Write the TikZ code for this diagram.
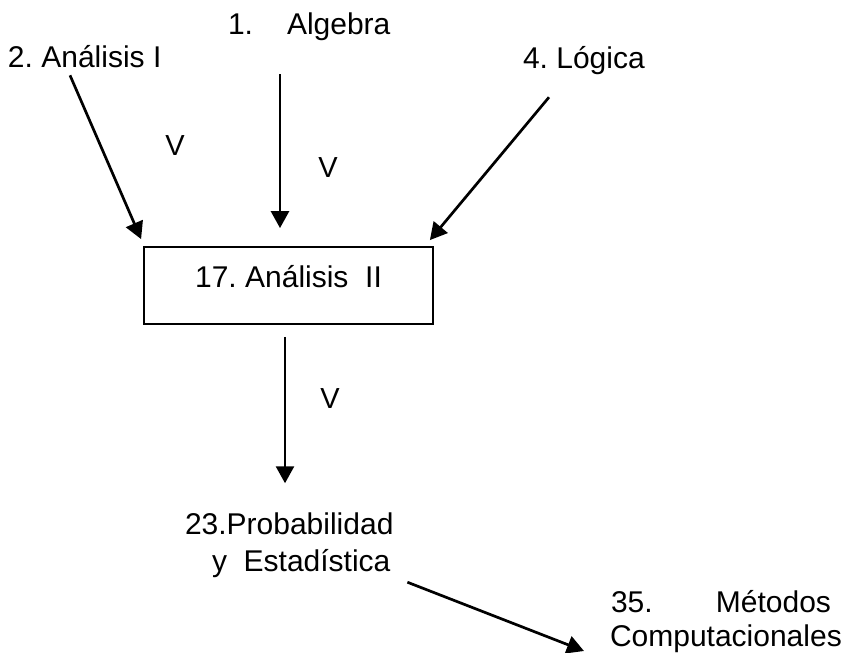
\documentclass[tikz,border=0pt]{standalone}
\usepackage{fontspec}
\setmainfont{Liberation Sans}
\frenchspacing
\usetikzlibrary{arrows.meta}
\tikzset{
  lbl/.style={inner sep=0pt, outer sep=0pt, anchor=base west, font=\fontsize{30}{34}\selectfont},
  vlbl/.style={inner sep=0pt, outer sep=0pt, anchor=center, font=\fontsize{29}{32}\selectfont},
  arr/.style={line width=2.7pt, -{Triangle[length=17pt,width=18pt]}},
  boxnode/.style={draw, line width=1.8pt, inner sep=0pt, minimum width=289pt, minimum height=77pt,
    text height=20pt, text depth=15pt, font=\fontsize{30}{34}\selectfont}
}
\begin{document}
\begin{tikzpicture}[x=1pt,y=1pt]
\useasboundingbox (0,0) rectangle (844,653);
\node[lbl] (alg) at (228,618) {1.\hspace{34pt}Algebra};
\node[lbl] (an1) at (8,585) {2. Análisis I};
\node[lbl] (log) at (523,584) {4. Lógica};
\node[boxnode] (box) at (288.5,367.5) {17. Análisis\ \ II};
\node[lbl] (prob1) at (185,118) {23.Probabilidad};
\node[lbl] (prob2) at (212,81) {y\ \ Estadística};
\node[lbl] (met1) at (611,40) {\makebox[220pt][l]{35.\hfill Métodos}};
\node[lbl] (met2) at (610,6) {Computacionales};
\node[vlbl] (v1) at (175,507) {V};
\node[vlbl] (v2) at (328,485) {V};
\node[vlbl] (v3) at (330,254) {V};
\draw[arr] ([xshift=62pt,yshift=-7pt]an1.south west) -- ([xshift=-2pt,yshift=7pt]box.north west);
\draw[arr] ([xshift=52pt,yshift=-33pt]alg.south west) -- ([xshift=-8.5pt,yshift=18pt]box.north);
\draw[arr] ([xshift=26pt,yshift=-22pt]log.south west) -- ([xshift=-4pt,yshift=6pt]box.north east);
\draw[arr] ([xshift=-3.5pt,yshift=-12pt]box.south) -- ([xshift=100pt,yshift=30pt]prob1.north west);
\draw[arr] ([xshift=17pt,yshift=-4pt]prob2.south east) -- ([xshift=-26pt,yshift=-4pt]met2.base west);
\end{tikzpicture}
\end{document}
